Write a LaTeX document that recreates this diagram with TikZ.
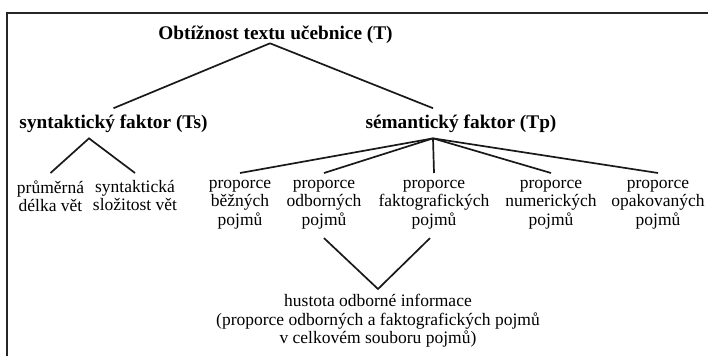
\documentclass[tikz,border=0pt]{standalone}
\usepackage{fontspec}
\setmainfont{Liberation Serif}
\usetikzlibrary{positioning}

\begin{document}
\begin{tikzpicture}[x=1pt,y=-1pt, every node/.style={inner sep=0pt}]
    % Styles
    \tikzset{frame/.style ={draw=black!85,line width=2.2pt}}
    \tikzset{link/.style  ={draw=black!90,line width=1.7pt}}
    \tikzset{head/.style  ={font=\fontsize{19.3}{22}\selectfont\bfseries,anchor=base}}
    \tikzset{factor/.style={head,inner ysep=6pt}}
    \tikzset{leaf/.style  ={font=\fontsize{17.5}{18.2}\selectfont,align=center,anchor=north,inner ysep=7.3pt,execute at begin node=\strut}}

    \useasboundingbox (0,0) rectangle (708,356);

    % Frame (only top and left edge visible)
    \draw[frame] (708,13) -- (7,13) -- (7,356);

    % Main concept and the two factors
    \node[head]   (T)  at (275.5,39) {Obtížnost textu učebnice (T)};
    \node[factor] (Ts) at (113.5,128) {syntaktický faktor (Ts)};
    \node[factor] (Tp) at (461,128)   {sémantický faktor (Tp)};

    % Syntactic leaves
    \node[leaf] (s1) at (50.5,173) {průměrná\\délka vět};
    \node[leaf] (s2) at (135,173)  {syntaktická\\složitost vět};

    % Semantic leaves
    \node[leaf] (p1) at (240,173) {proporce\\běžných\\pojmů};
    \node[leaf] (p2) at (324,173) {proporce\\odborných\\pojmů};
    \node[leaf] (p3) at (434,173) {proporce\\faktografických\\pojmů};
    \node[leaf] (p4) at (551,173) {proporce\\numerických\\pojmů};
    \node[leaf] (p5) at (658,173) {proporce\\opakovaných\\pojmů};

    % Density of information
    \node[leaf,inner ysep=5.3pt] (H) at (378,289)
      {hustota odborné informace\\(proporce odborných a faktografických pojmů\\v celkovém souboru pojmů)};

    % Connectors
    \draw[link] ([xshift=-5.5pt]T.south) -- (Ts.north);
    \draw[link] ([xshift=-5.5pt]T.south) -- ([xshift=-28pt]Tp.north);
    \draw[link] (s1.north) -- ([xshift=-24.5pt]Ts.south) -- (s2.north);
    \draw[link] ([xshift=-28pt]Tp.south) -- (p1.north);
    \draw[link] ([xshift=-28pt]Tp.south) -- (p2.north);
    \draw[link] ([xshift=-28pt]Tp.south) -- (p3.north);
    \draw[link] ([xshift=-28pt]Tp.south) -- (p4.north);
    \draw[link] ([xshift=-28pt]Tp.south) -- (p5.north);
    \draw[link] (p2.south) -- (H.north) -- ([xshift=-4pt]p3.south);
\end{tikzpicture}
\end{document}
